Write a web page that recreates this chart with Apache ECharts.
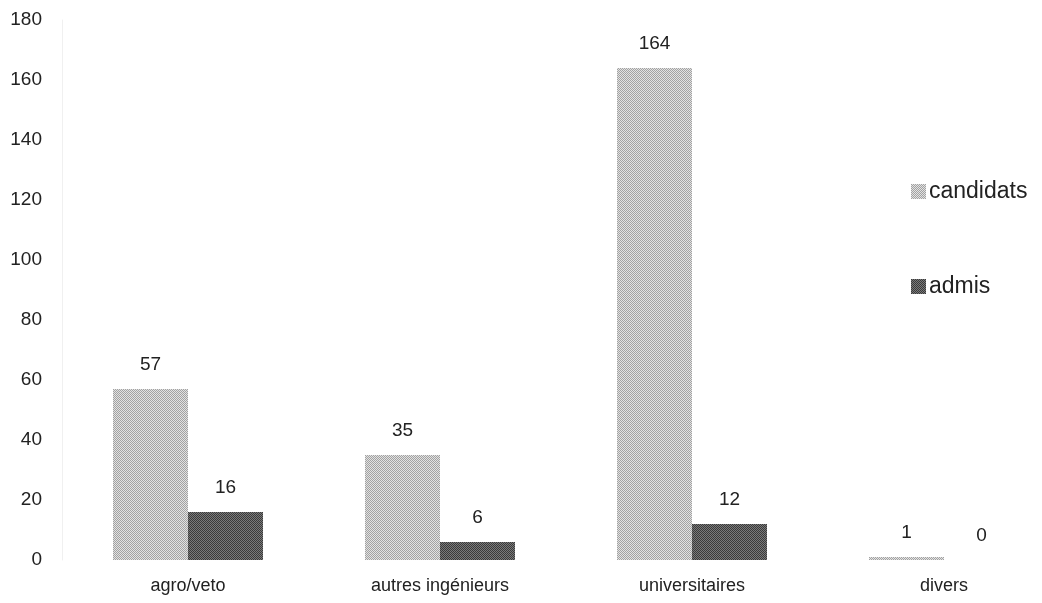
<!DOCTYPE html>
<html><head><meta charset="utf-8">
<script src="https://cdn.jsdelivr.net/npm/echarts@6/dist/echarts.min.js"></script>
<style>html,body{margin:0;padding:0;background:#fff;overflow:hidden;width:1042px;height:603px}#c{width:1080px;height:603px}</style>
</head><body><div id="c"></div>
<script>
var categories = ['agro/veto', 'autres ingénieurs', 'universitaires', 'divers'];
var candidats = [57, 35, 164, 1];
var admis = [16, 6, 12, 0];
var yTicks = [0, 20, 40, 60, 80, 100, 120, 140, 160, 180];

function pattern(a, b) {
  var c = document.createElement('canvas');
  c.width = 2; c.height = 2;
  var g = c.getContext('2d');
  g.fillStyle = a; g.fillRect(0, 0, 2, 2);
  g.fillStyle = b; g.fillRect(0, 0, 1, 1); g.fillRect(1, 1, 1, 1);
  return c;
}
var pCand = pattern('#e2e2e2', '#a2a2a2');
var pAdm = pattern('#7a7a7a', '#3a3a3a');

var chart = echarts.init(document.getElementById('c'));
var font = 'Liberation Sans, Arial, sans-serif';
chart.setOption({
  animation: false,
  backgroundColor: '#fff',
  grid: { left: 62, right: 10, top: 20, bottom: 43, containLabel: false },
  legend: {
    orient: 'vertical', left: 906, top: 175, itemGap: 72,
    itemWidth: 15, itemHeight: 15, icon: 'rect',
    textStyle: { fontFamily: font, fontSize: 23, color: '#222', padding: [0, 0, 0, -2] },
    data: ['candidats', 'admis']
  },
  xAxis: {
    type: 'category', data: categories,
    axisLine: { show: false }, axisTick: { show: false },
    axisLabel: { fontFamily: font, fontSize: 18, color: '#222', margin: 17 }
  },
  yAxis: {
    type: 'value', min: 0, max: 180, interval: 20,
    axisLine: { show: true, lineStyle: { color: '#f0f0f0' } },
    axisTick: { show: false }, splitLine: { show: false },
    axisLabel: { fontFamily: font, fontSize: 19, color: '#222', margin: 20,
      formatter: function (v) { return yTicks.indexOf(v) >= 0 ? String(v) : ''; } }
  },
  series: [
    { name: 'candidats', type: 'bar', data: candidats, barWidth: 75, barGap: '0%',
      itemStyle: { color: { image: pCand, repeat: 'repeat' } },
      label: { show: true, position: 'top', distance: 15, fontFamily: font, fontSize: 19, color: '#222' } },
    { name: 'admis', type: 'bar', data: admis, barWidth: 75,
      itemStyle: { color: { image: pAdm, repeat: 'repeat' } },
      label: { show: true, position: 'top', distance: 15, fontFamily: font, fontSize: 19, color: '#222' } }
  ]
});
</script></body></html>
